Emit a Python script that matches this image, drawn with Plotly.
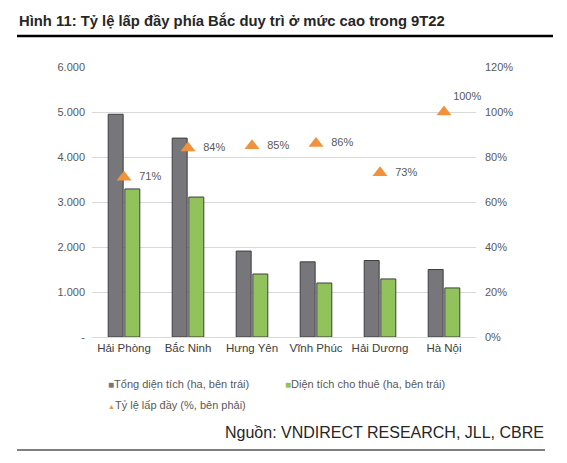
import plotly.graph_objects as go

# Dữ liệu
khu_vuc = ["Hải Phòng", "Bắc Ninh", "Hưng Yên", "Vĩnh Phúc", "Hải Dương", "Hà Nội"]
tong_dien_tich = [4950, 4420, 1910, 1670, 1700, 1500]
dien_tich_thue = [3290, 3110, 1400, 1200, 1290, 1090]
ty_le_lap_day = [0.71, 0.84, 0.85, 0.86, 0.73, 1.00]

truc_trai_vals = [0, 1000, 2000, 3000, 4000, 5000, 6000]
truc_trai_text = ["-", "1.000", "2.000", "3.000", "4.000", "5.000", "6.000"]

ten_chuoi = ["Tổng diện tích (ha, bên trái)", "Diện tích cho thuê (ha, bên trái)",
             "Tỷ lệ lấp đầy (%, bên phải)"]
mau = ["#77777B", "#92C25C", "#F0923A"]

# trang HTML có lề 8px, nên toạ độ bố cục = toạ độ ảnh - 8
O = 8
W, H = 551, 447
L, T = 92 - O, 67 - O
R, B = W - (476 - O), H - (337 - O)
PW, PH = W - L - R, H - T - B


def px(x):
    return (x - O - L) / PW


def py(y):
    return (H - B - (y - O)) / PH


fig = go.Figure()

fig.add_trace(go.Bar(x=khu_vuc, y=tong_dien_tich, name=ten_chuoi[0],
                     marker=dict(color=mau[0], line=dict(color="#3F3F3F", width=1))))
fig.add_trace(go.Bar(x=khu_vuc, y=dien_tich_thue, name=ten_chuoi[1],
                     marker=dict(color=mau[1], line=dict(color="#3F3F3F", width=1))))
vi_tri_nhan = ["middle right"] * (len(ty_le_lap_day) - 1) + ["top right"]
nhan = ["\u00a0\u00a0" + f"{v:.0%}" for v in ty_le_lap_day[:-1]] + [f"{ty_le_lap_day[-1]:.0%}"]
fig.add_trace(go.Scatter(x=khu_vuc, y=ty_le_lap_day, yaxis="y2", mode="markers+text",
                         name=ten_chuoi[2], cliponaxis=False,
                         marker=dict(symbol="triangle-up", size=13, color=mau[2]),
                         text=nhan, textposition=vi_tri_nhan,
                         textfont=dict(size=11, color="#595959")))

fig.update_layout(
    width=W, height=H,
    margin=dict(l=L, r=R, t=T, b=B, autoexpand=False),
    paper_bgcolor="white", plot_bgcolor="white",
    font=dict(family="Liberation Sans, Arial", size=11, color="#595959"),
    barmode="group", bargap=0.48, bargroupgap=0.1,
    separators=",.",
    showlegend=False,
    xaxis=dict(showgrid=False, showline=True, linecolor="#D9D9D9", ticks="",
               tickfont=dict(size=11.5, color="#404040")),
    yaxis=dict(range=[0, 6000], tickvals=truc_trai_vals, ticktext=truc_trai_text,
               showgrid=True, gridcolor="#D9D9D9", zeroline=False, ticks="",
               tickfont=dict(size=11, color="#595959"), ticklabelstandoff=6),
    yaxis2=dict(range=[0, 1.2], dtick=0.2, tickformat=".0%", overlaying="y", side="right",
                showgrid=False, zeroline=False, ticks="",
                tickfont=dict(size=11, color="#595959"), ticklabelstandoff=8),
)

# chú thích kiểu Excel: ký hiệu nhỏ sát chữ
ky_hieu = ["■", "■", "▲"]
co_ky_hieu = [10, 10, 7]
vi_tri_chu_thich = [(106, 384), (283, 384), (106, 405)]
for ten, m, kh, co, (cx, cy) in zip(ten_chuoi, mau, ky_hieu, co_ky_hieu, vi_tri_chu_thich):
    fig.add_annotation(text=f"<span style='color:{m};font-size:{co}px'>{kh}</span>{ten}",
                       xref="paper", yref="paper", x=px(cx), y=py(cy), xanchor="left",
                       yanchor="middle", showarrow=False, font=dict(size=11, color="#595959"))

fig.add_annotation(text="<b>Hình 11: Tỷ lệ lấp đầy phía Bắc duy trì ở mức cao trong 9T22</b>",
                   xref="paper", yref="paper", x=px(17), y=py(20), xanchor="left", yanchor="middle",
                   showarrow=False, font=dict(size=14.8, color="#262626"))
fig.add_annotation(text="Nguồn: VNDIRECT RESEARCH, JLL, CBRE",
                   xref="paper", yref="paper", x=px(546), y=py(432), xanchor="right", yanchor="middle",
                   showarrow=False, font=dict(size=16, color="#262626"))
fig.add_shape(type="line", xref="paper", yref="paper", x0=px(17), x1=px(553), y0=py(36), y1=py(36),
              line=dict(color="black", width=2.5))
fig.add_shape(type="line", xref="paper", yref="paper", x0=px(17), x1=px(545), y0=py(450), y1=py(450),
              line=dict(color="black", width=1.2))

fig.write_html("out.html")
